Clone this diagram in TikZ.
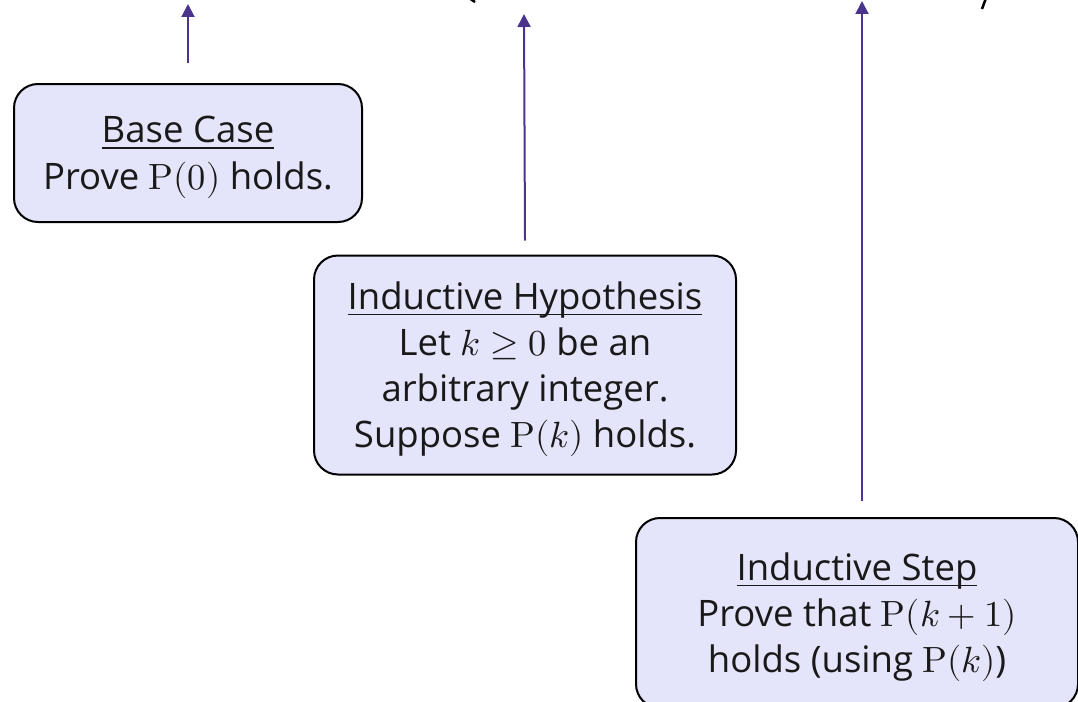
\documentclass[tikz,border=0pt]{standalone}
\usepackage{unicode-math}
\setmainfont{Open Sans}
\setmathfont{Latin Modern Math}
\usetikzlibrary{arrows.meta}
\definecolor{boxfill}{RGB}{228,228,250}
\definecolor{arrowpurple}{RGB}{74,52,140}
\newcommand{\casehead}[1]{\underline{\rule{0pt}{36pt}\smash{#1}}}
\tikzset{
  casebox/.style={draw=black, line width=2pt, fill=boxfill, rounded corners=24pt,
    align=center, font=\fontsize{36.5}{46}\selectfont, text=black!90, inner sep=0pt},
  uparrow/.style={draw=arrowpurple, line width=2pt,
    -{Triangle[width=13pt,length=13pt]}}
}
\begin{document}
\begin{tikzpicture}[x=1pt,y=-1pt]
    \useasboundingbox (0,0) rectangle (1078,701);
    \clip (0,0) rectangle (1078,701);

    % 定義箭頭終點
    \coordinate (T1) at (188, 4);
    \coordinate (T2) at (524, 14);
    \coordinate (T3) at (862, 1);

    % 畫出方框
    \node[casebox, minimum width=348pt, minimum height=138pt] (base) at (188, 153)
        {\casehead{Base Case}\\[1pt]Prove $\symup{P}(0)$ holds.};
    \node[casebox, minimum width=422pt, minimum height=219pt] (hyp) at (525, 365)
        {\casehead{Inductive Hypothesis}\\Let $k \geq 0$ be an\\arbitrary integer.\\Suppose $\symup{P}(k)$ holds.};
    \node[casebox, minimum width=442pt, minimum height=190pt] (indstep) at (857, 613)
        {\casehead{Inductive Step}\\Prove that $\symup{P}(k+1)$\\holds (using $\symup{P}(k)$)};

    % 畫出箭頭
    \draw[uparrow] ([yshift=20pt]base.north) -- (T1);
    \draw[uparrow] ([yshift=14pt]hyp.north) -- (T2);
    \draw[uparrow] ([xshift=5pt,yshift=16pt]indstep.north) -- (T3);

    % 上方被裁掉的括號
    \draw[line width=2.5pt] (469,-2) -- (475,2);
    \draw[line width=2.5pt] (986,-2) -- (982,9);
\end{tikzpicture}
\end{document}
